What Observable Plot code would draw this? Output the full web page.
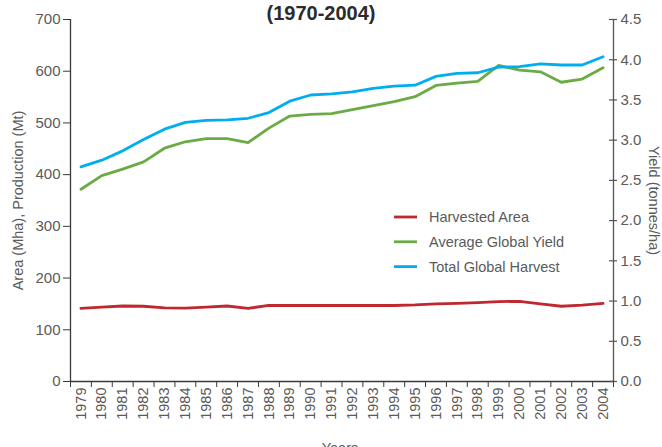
<!DOCTYPE html>
<html>
<head>
<meta charset="utf-8">
<script src="https://cdn.jsdelivr.net/npm/d3@7"></script>
<script src="https://cdn.jsdelivr.net/npm/@observablehq/plot@0.6"></script>
<style>
  html, body { margin: 0; padding: 0; background: #fff; }
  #chart { width: 662px; height: 447px; overflow: hidden; }
</style>
</head>
<body>
<div id="chart"></div>
<script>
// ---- data ----
const years = [1979,1980,1981,1982,1983,1984,1985,1986,1987,1988,1989,1990,1991,1992,1993,1994,1995,1996,1997,1998,1999,2000,2001,2002,2003,2004];
// Harvested Area (Mha)
const harvestedArea = [141.5,144,146,145.5,142.5,142,144,146,141.5,147,147,147,147,147,147,147,148,150,151,152.5,154.5,155,150,145.5,147.5,151];
// Average Global Yield (tonnes/ha)
const averageYield = [2.39,2.56,2.64,2.73,2.90,2.98,3.02,3.02,2.97,3.15,3.30,3.32,3.33,3.38,3.43,3.48,3.54,3.68,3.71,3.73,3.93,3.87,3.85,3.72,3.76,3.90];
// Total Global Harvest (Mt)
const totalHarvest = [415,428,446,468,488,501,505,506,509,520,542,554,556,560,567,571,573,590,596,597,608,609,614,612,612,628];

const leftTicks = [0,100,200,300,400,500,600,700];
const rightTicks = [0,0.5,1,1.5,2,2.5,3,3.5,4,4.5];
const seriesNames = ["Harvested Area","Average Global Yield","Total Global Harvest"];
const seriesColors = ["#c0282f","#6aab46","#00aeef"];

const leftMax = 700, rightMax = 4.5;
const toLeft = v => v * leftMax / rightMax;

const rows = years.map((y, i) => ({
  year: y, area: harvestedArea[i], yieldT: averageYield[i], harvest: totalHarvest[i]
}));
const bounds = years.map(y => y - 0.5).concat([years[years.length-1] + 0.5]);

const W = 662, H = 447, mL = 70, mR = 49, mT = 19, mB = 66;
const txt = "#5a5a5a";

const chart = Plot.plot({
  width: W, height: H,
  marginLeft: mL, marginRight: mR, marginTop: mT, marginBottom: mB,
  style: { fontFamily: "Liberation Sans, Arial, sans-serif", background: "#fff", overflow: "visible" },
  x: { type: "linear", domain: [bounds[0], bounds[bounds.length-1]] },
  y: { domain: [0, leftMax] },
  marks: [
    // axis lines
    Plot.ruleY([0], { stroke: "#3a3a3a", strokeWidth: 1.3 }),
    Plot.ruleX([bounds[0]], { stroke: "#3a3a3a", strokeWidth: 1.3 }),
    Plot.ruleX([bounds[bounds.length-1]], { stroke: "#555", strokeWidth: 1.3, y1: 0, y2: leftMax }),
    // left axis
    Plot.axisY({ anchor: "left", ticks: leftTicks, tickSize: 7, tickPadding: 3, fontSize: 15,
                 stroke: "#3a3a3a", color: txt, label: null }),
    // right axis (yield), mapped onto the left scale
    Plot.tickY(rightTicks, { y: d => toLeft(d), stroke: "#555", strokeWidth: 1.2,
                 insetLeft: W - mL - mR - 4, insetRight: -4 }),
    Plot.axisY({ anchor: "right", ticks: rightTicks.map(toLeft), tickSize: 0, tickPadding: 7, fontSize: 15,
                 tickFormat: d => (d * rightMax / leftMax).toFixed(1), color: txt, label: null }),
    // x axis: ticks at band boundaries, labels at centres
    Plot.axisX({ ticks: bounds, tickSize: 6, text: null, stroke: "#3a3a3a", label: null }),
    Plot.axisX({ ticks: years, tickSize: 0, tickPadding: 6, tickRotate: -90, fontSize: 14.5,
                 tickFormat: d => String(d), color: txt, label: null }),
    // series
    Plot.line(rows, { x: "year", y: "area", stroke: seriesColors[0], strokeWidth: 2.8 }),
    Plot.line(rows, { x: "year", y: d => toLeft(d.yieldT), stroke: seriesColors[1], strokeWidth: 2.8 }),
    Plot.line(rows, { x: "year", y: "harvest", stroke: seriesColors[2], strokeWidth: 2.8 }),
    // axis titles
    Plot.text(["Area (Mha), Production (Mt)"], { frameAnchor: "left", dx: -52, rotate: -90,
                 fontSize: 14.5, fill: txt, textAnchor: "middle" }),
    Plot.text(["Yield (tonnes/ha)"], { frameAnchor: "right", dx: 40, rotate: 90,
                 fontSize: 14.5, fill: txt, textAnchor: "middle" }),
    Plot.text(["Years"], { frameAnchor: "bottom", dx: -2, dy: 71, lineAnchor: "bottom",
                 fontSize: 14.5, fill: txt }),
    Plot.text(["(1970-2004)"], { frameAnchor: "top", dx: -21, dy: 0, lineAnchor: "bottom",
                 fontSize: 20, fontWeight: "bold", fill: "#2b2b2b" })
  ]
});
document.getElementById("chart").appendChild(chart);

// legend inside the plot area
const svg = d3.select(chart);
const lg = svg.append("g")
  .attr("font-family", "Liberation Sans, Arial, sans-serif")
  .attr("text-anchor", "start");
seriesNames.forEach((name, i) => {
  const yy = 217 + i * 24.8;
  lg.append("line").attr("x1", 394).attr("x2", 417).attr("y1", yy).attr("y2", yy)
    .attr("stroke", seriesColors[i]).attr("stroke-width", 2.8);
  lg.append("text").attr("x", 429).attr("y", yy).attr("dy", "0.35em")
    .attr("text-anchor", "start")
    .attr("font-size", 14.5).attr("fill", txt).text(name);
});
</script>
</body>
</html>
